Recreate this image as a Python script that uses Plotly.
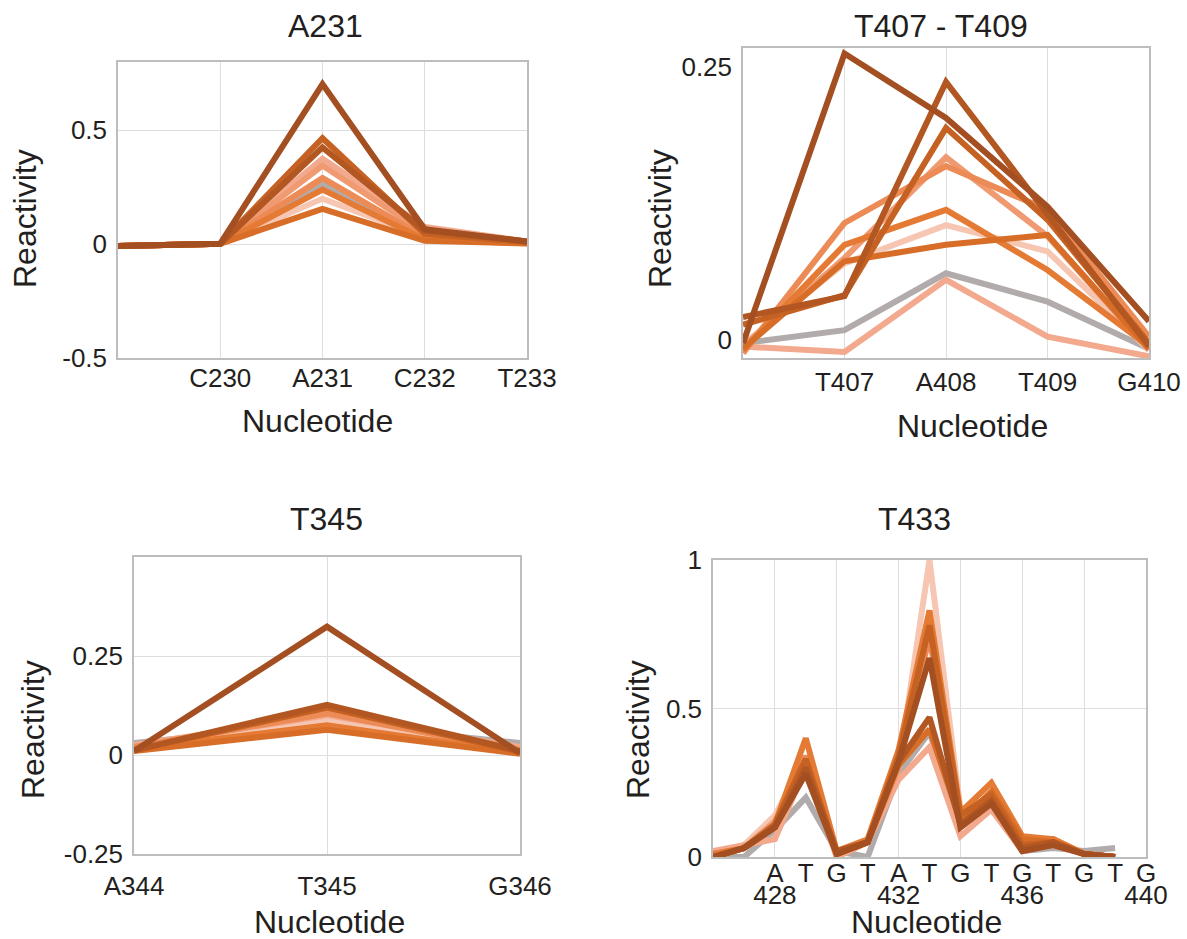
import plotly.graph_objects as go

FONT = "Liberation Sans, Arial, Helvetica, sans-serif"
INK = "#231F20"
W, H = 1187, 939

# ---------------- data ----------------
series_names = ["gray", "pale", "salmon", "peach", "light", "orange", "burnt", "rust", "brown", "dark"]

# Panel A231
a231_pos = [229, 230, 231, 232, 233]
a231_tickvals = [230, 231, 232, 233]
a231_ticktext = ["C230", "A231", "C232", "T233"]
a231_gray = [-0.008, 0.002, 0.265, 0.03, 0.008]
a231_pale = [-0.008, 0.002, 0.20, 0.03, 0.006]
a231_salmon = [-0.008, 0.002, 0.375, 0.075, 0.012]
a231_peach = [-0.008, 0.002, 0.345, 0.05, 0.01]
a231_light = [-0.008, 0.002, 0.29, 0.03, 0.006]
a231_orange = [-0.008, 0.002, 0.24, 0.02, 0.004]
a231_burnt = [-0.008, 0.002, 0.155, 0.015, 0.003]
a231_rust = [-0.008, 0.002, 0.465, 0.045, 0.01]
a231_brown = [-0.008, 0.002, 0.425, 0.06, 0.012]
a231_dark = [-0.008, 0.002, 0.703, 0.065, 0.012]

# Panel T407 - T409
t407_pos = [406, 407, 408, 409, 410]
t407_tickvals = [407, 408, 409, 410]
t407_ticktext = ["T407", "A408", "T409", "G410"]
t407_gray = [-0.003, 0.009, 0.061, 0.035, -0.008]
t407_pale = [-0.004, 0.07, 0.105, 0.081, -0.009]
t407_salmon = [-0.006, -0.011, 0.055, 0.003, -0.015]
t407_peach = [-0.006, 0.075, 0.167, 0.095, -0.009]
t407_light = [-0.012, 0.107, 0.159, 0.119, 0.003]
t407_orange = [-0.009, 0.087, 0.119, 0.064, -0.006]
t407_burnt = [-0.008, 0.072, 0.087, 0.096, -0.008]
t407_rust = [0.014, 0.041, 0.194, 0.11, -0.003]
t407_brown = [0.021, 0.040, 0.236, 0.116, -0.006]
t407_dark = [-0.003, 0.262, 0.203, 0.122, 0.017]

# Panel T345
t345_pos = [344, 345, 346]
t345_tickvals = [344, 345, 346]
t345_ticktext = ["A344", "T345", "G346"]
t345_gray = [0.03, 0.08, 0.03]
t345_pale = [0.02, 0.085, 0.015]
t345_salmon = [0.025, 0.10, 0.02]
t345_peach = [0.02, 0.11, 0.015]
t345_light = [0.02, 0.105, 0.01]
t345_orange = [0.015, 0.075, 0.005]
t345_burnt = [0.01, 0.064, 0.003]
t345_rust = [0.012, 0.12, 0.008]
t345_brown = [0.012, 0.127, 0.01]
t345_dark = [0.01, 0.324, 0.005]

# Panel T433
t433_pos = [426, 427, 428, 429, 430, 431, 432, 433, 434, 435, 436, 437, 438, 439]
t433_letter_vals = [428, 429, 430, 431, 432, 433, 434, 435, 436, 437, 438, 439, 440]
t433_letters = ["A", "T", "G", "T", "A", "T", "G", "T", "G", "T", "G", "T", "G"]
t433_number_vals = [428, 432, 436, 440]
t433_numbers = ["428", "432", "436", "440"]
t433_gray = [0.0, 0.0, 0.09, 0.20, 0.02, 0.0, 0.28, 0.42, 0.12, 0.17, 0.02, 0.03, 0.02, 0.03]
t433_pale = [0.01, 0.04, 0.14, 0.33, 0.0, 0.05, 0.30, 1.0, 0.16, 0.20, 0.03, 0.05, 0.01, 0.0]
t433_salmon = [0.02, 0.04, 0.06, 0.30, 0.0, 0.05, 0.26, 0.37, 0.07, 0.16, 0.02, 0.04, 0.01, 0.0]
t433_peach = [0.01, 0.03, 0.12, 0.32, 0.01, 0.05, 0.30, 0.78, 0.10, 0.18, 0.04, 0.06, 0.01, 0.0]
t433_light = [0.01, 0.03, 0.10, 0.34, 0.01, 0.05, 0.33, 0.74, 0.12, 0.21, 0.05, 0.06, 0.01, 0.0]
t433_orange = [0.01, 0.03, 0.11, 0.40, 0.02, 0.06, 0.36, 0.83, 0.15, 0.25, 0.07, 0.06, 0.01, 0.0]
t433_burnt = [0.0, 0.03, 0.10, 0.31, 0.01, 0.05, 0.31, 0.43, 0.12, 0.22, 0.06, 0.05, 0.01, 0.0]
t433_rust = [0.0, 0.03, 0.11, 0.33, 0.01, 0.05, 0.34, 0.78, 0.14, 0.21, 0.04, 0.05, 0.01, 0.0]
t433_brown = [0.0, 0.03, 0.10, 0.30, 0.02, 0.05, 0.32, 0.47, 0.11, 0.19, 0.03, 0.05, 0.01, 0.0]
t433_dark = [0.0, 0.03, 0.10, 0.28, 0.01, 0.05, 0.32, 0.67, 0.10, 0.18, 0.02, 0.04, 0.01, 0.0]

# ---------------- styles ----------------
COLORS = {
    "gray": "#B1ACAB",
    "pale": "#F6C6B2",
    "salmon": "#F2A98D",
    "peach": "#F09A72",
    "light": "#EC8B55",
    "orange": "#E47A33",
    "burnt": "#D86D27",
    "rust": "#C56122",
    "brown": "#B35722",
    "dark": "#A34F22",
}

panels = [
    dict(pos=a231_pos, data=dict(gray=a231_gray, pale=a231_pale, salmon=a231_salmon, peach=a231_peach,
                                 light=a231_light, orange=a231_orange, burnt=a231_burnt, rust=a231_rust,
                                 brown=a231_brown, dark=a231_dark)),
    dict(pos=t407_pos, data=dict(gray=t407_gray, pale=t407_pale, salmon=t407_salmon, peach=t407_peach,
                                 light=t407_light, orange=t407_orange, burnt=t407_burnt, rust=t407_rust,
                                 brown=t407_brown, dark=t407_dark)),
    dict(pos=t345_pos, data=dict(gray=t345_gray, pale=t345_pale, salmon=t345_salmon, peach=t345_peach,
                                 light=t345_light, orange=t345_orange, burnt=t345_burnt, rust=t345_rust,
                                 brown=t345_brown, dark=t345_dark)),
    dict(pos=t433_pos, data=dict(gray=t433_gray, pale=t433_pale, salmon=t433_salmon, peach=t433_peach,
                                 light=t433_light, orange=t433_orange, burnt=t433_burnt, rust=t433_rust,
                                 brown=t433_brown, dark=t433_dark)),
]

fig = go.Figure()
for i, p in enumerate(panels):
    suffix = "" if i == 0 else str(i + 1)
    for name in series_names:
        fig.add_trace(go.Scatter(
            x=p["pos"], y=p["data"][name], mode="lines",
            line=dict(color=COLORS[name], width=6),
            xaxis="x" + suffix, yaxis="y" + suffix,
            showlegend=False, hoverinfo="skip",
        ))

# invisible carrier trace so the secondary (number) axis of the T433 panel is drawn
fig.add_trace(go.Scatter(x=t433_number_vals, y=[None] * len(t433_number_vals), mode="markers",
                         xaxis="x5", yaxis="y4", showlegend=False, hoverinfo="skip"))


# pixel -> paper helpers
def px_dom_x(a, b):
    return [a / W, b / W]


def px_dom_y(top, bottom):
    return [1 - bottom / H, 1 - top / H]


FRAME = "#BDBDBD"
GRID = "#DEDEDE"
TICKFONT = dict(family=FONT, size=26, color=INK)

common_x = dict(showline=True, mirror=True, linecolor=FRAME, linewidth=1.5, gridcolor=GRID, gridwidth=1,
                zeroline=False, ticks="", tickfont=TICKFONT, fixedrange=True, automargin=False)
common_y = dict(showline=True, mirror=True, linecolor=FRAME, linewidth=1.5, gridcolor=GRID, gridwidth=1,
                zeroline=False, ticks="", tickfont=TICKFONT, ticklabelstandoff=4, fixedrange=True,
                automargin=False)

layout = dict(
    width=W, height=H, paper_bgcolor="white", plot_bgcolor="white",
    margin=dict(l=0, r=0, t=0, b=0, pad=0, autoexpand=False), showlegend=False,
    font=dict(family=FONT, color=INK),
    xaxis=dict(common_x, domain=px_dom_x(118, 527), anchor="y", range=[229, 233],
               tickmode="array", tickvals=a231_tickvals, ticktext=a231_ticktext, showgrid=True,
               ticklabelstandoff=-4),
    yaxis=dict(common_y, domain=px_dom_y(62, 358), anchor="x", range=[-0.5, 0.8],
               tickmode="array", tickvals=[-0.5, 0, 0.5], ticktext=["-0.5", "0", "0.5"], showgrid=True),
    xaxis2=dict(common_x, domain=px_dom_x(743, 1149), anchor="y2", range=[406, 410],
                tickmode="array", tickvals=t407_tickvals, ticktext=t407_ticktext, showgrid=True),
    yaxis2=dict(common_y, domain=px_dom_y(48, 358), anchor="x2", range=[-0.0165, 0.267],
                tickmode="array", tickvals=[0, 0.25], ticktext=["0", "0.25"], showgrid=False),
    xaxis3=dict(common_x, domain=px_dom_x(134, 520), anchor="y3", range=[344, 346],
                tickmode="array", tickvals=t345_tickvals, ticktext=t345_ticktext, showgrid=True,
                ticklabelstandoff=8),
    yaxis3=dict(common_y, domain=px_dom_y(557, 854), anchor="x3", range=[-0.25, 0.5],
                tickmode="array", tickvals=[-0.25, 0, 0.25], ticktext=["-0.25", "0", "0.25"], showgrid=True),
    xaxis4=dict(common_x, domain=px_dom_x(713, 1146), anchor="y4", range=[426, 440],
                tickmode="array", tickvals=t433_letter_vals, ticktext=t433_letters, showgrid=False,
                ticklabelstandoff=-8,
                minor=dict(tickmode="linear", tick0=426, dtick=2, showgrid=True, gridcolor=GRID,
                           gridwidth=1, ticks="")),
    yaxis4=dict(common_y, domain=px_dom_y(560, 857), anchor="x4", range=[0, 1],
                tickmode="array", tickvals=[0, 0.5, 1], ticktext=["0", "0.5", "1"], showgrid=True),
    xaxis5=dict(overlaying="x4", anchor="y4", side="bottom", range=[426, 440], showline=False,
                showgrid=False, zeroline=False, ticks="", tickfont=TICKFONT, tickmode="array",
                tickvals=t433_number_vals, ticktext=t433_numbers, ticklabelstandoff=20,
                fixedrange=True, automargin=False),
)

annotations = []


def ann(text, x, y, size, angle=0):
    annotations.append(dict(text=text, x=x / W, y=1 - y / H, xref="paper", yref="paper",
                            xanchor="center", yanchor="middle", showarrow=False, textangle=angle,
                            font=dict(family=FONT, size=size, color=INK)))


# panel titles
ann("A231", 325, 26, 32)
ann("T407 - T409", 941, 26, 32)
ann("T345", 326, 519, 32)
ann("T433", 914, 519, 32)
# y titles
for (x, y) in [(25, 219), (660, 219), (33, 730), (638, 730)]:
    ann("Reactivity", x, y, 32, -90)
# x titles
for (x, y) in [(317, 421), (972, 426), (329, 922), (926, 922)]:
    ann("Nucleotide", x, y, 32)

layout["annotations"] = annotations
fig.update_layout(**layout)

# remove the page's default body margin so the figure sits at the window's top-left corner
fig.write_html("out.html", config={"displayModeBar": False},
               post_script="document.body.style.margin='0';document.body.style.overflow='hidden';")
